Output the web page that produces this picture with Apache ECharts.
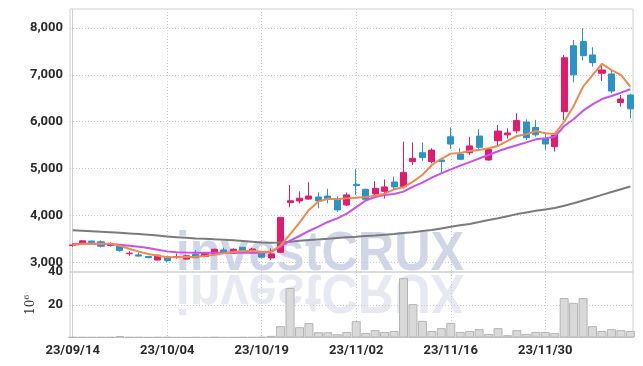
<!DOCTYPE html>
<html><head><meta charset="utf-8">
<script src="https://cdn.jsdelivr.net/npm/echarts@6/dist/echarts.min.js"></script>
<style>html,body{margin:0;padding:0;background:#fff}#c{width:643px;height:366px}</style>
</head><body><div id="c"></div>
<script>
const dates = ['23/09/14','23/09/15','23/09/18','23/09/19','23/09/20','23/09/21','23/09/22','23/09/25','23/09/26','23/09/27',
'23/10/04','23/10/05','23/10/06','23/10/10','23/10/11','23/10/12','23/10/13','23/10/16','23/10/17','23/10/18',
'23/10/19','23/10/20','23/10/23','23/10/24','23/10/25','23/10/26','23/10/27','23/10/30','23/10/31','23/11/01',
'23/11/02','23/11/03','23/11/06','23/11/07','23/11/08','23/11/09','23/11/10','23/11/13','23/11/14','23/11/15',
'23/11/16','23/11/17','23/11/20','23/11/21','23/11/22','23/11/23','23/11/24','23/11/27','23/11/28','23/11/29',
'23/11/30','23/12/01','23/12/04','23/12/05','23/12/06','23/12/07','23/12/08','23/12/11','23/12/12','23/12/13'];

const opens  = [3360,3390,3455,3440,3360,3355,3185,3160,3125,3050, 3120,3115,3070,3170,3125,3180,3265,3195,3320,3200,
                3225,3095,3215,4275,4310,4350,4395,4415,4360,4225, 4665,4560,4460,4515,4715,4615,5150,5340,5150,5185,
                5680,5310,5340,5695,5185,5595,5720,5805,5995,5880, 5645,5470,6215,7620,7710,7425,7035,7020,6410,6570];
const closes = [3370,3460,3420,3345,3400,3255,3195,3135,3100,3155, 3040,3125,3140,3100,3195,3280,3195,3280,3230,3285,
                3110,3180,3960,4315,4370,4415,4310,4355,4120,4440, 4640,4345,4580,4610,4610,4920,5220,5235,5395,5150,
                5525,5200,5485,5455,5410,5800,5760,6025,5660,5720, 5525,5715,7365,7000,7410,7260,7105,6655,6485,6275];
const lows   = [3330,3380,3410,3320,3340,3230,3140,3125,3090,3040, 3005,3080,3060,3090,3110,3170,3185,3180,3220,3190,
                3100,3050,3195,4175,4260,4335,4155,4260,4075,4200, 4440,4335,4370,4365,4545,4580,5080,5165,5115,4900,
                5420,5185,5290,5400,5170,5485,5640,5755,5610,5680, 5400,5365,6040,6840,7305,7175,6870,6605,6320,6075];
const highs  = [3405,3470,3465,3470,3430,3360,3240,3210,3140,3160, 3125,3190,3160,3260,3210,3290,3315,3300,3330,3315,
                3235,3300,3965,4650,4515,4710,4495,4570,4410,4490, 4990,4570,4735,4770,4830,5575,5560,5555,5435,5200,
                5880,5435,5680,5840,5420,5930,5860,6180,6050,6040, 5755,5755,7425,7745,7995,7590,7245,7105,6570,6595];

const maShort = [3370,3390,3400,3400,3395,3355,3290,3230,3180,3140, 3110,3108,3115,3122,3137,3165,3194,3222,3245,3250,
                 3225,3228,3360,3600,3850,4120,4300,4355,4346,4367, 4381,4395,4424,4466,4559,4602,4722,4864,5078,5210,
                 5320,5335,5376,5397,5434,5483,5590,5696,5732,5803, 5754,5739,6000,6336,6748,6997,7235,7100,7000,6750];
const maMid   = [3392,3395,3395,3395,3392,3375,3355,3332,3305,3270, 3235,3218,3212,3208,3206,3205,3205,3205,3205,3205,
                 3208,3228,3336,3463,3563,3670,3762,3862,3940,4040, 4180,4320,4395,4438,4459,4509,4616,4700,4810,4900,
                 4985,5063,5140,5215,5290,5370,5440,5500,5560,5625, 5650,5680,5910,6053,6236,6372,6485,6549,6620,6692];
const maLong  = [3685,3675,3665,3655,3645,3632,3618,3603,3588,3572, 3550,3538,3525,3512,3502,3492,3484,3470,3455,3440,
                 3425,3420,3425,3440,3460,3475,3490,3505,3520,3535, 3548,3562,3576,3592,3608,3625,3645,3668,3690,3725,
                 3760,3790,3820,3860,3905,3940,3985,4030,4065,4100, 4130,4160,4210,4260,4320,4380,4440,4500,4560,4620];

const volumes = [0.2,0.2,0.2,0.2,0.2,0.8,0.2,0.2,0.1,0.2, 0.2,0.1,0.1,0.2,0.1,0.2,0.1,0.1,0.2,0.2,
                 0.3,1.0,6.9,30.2,6.3,8.8,3.2,3.2,2.0,3.4, 10.0,2.8,4.5,3.4,4.0,36.3,20.4,10.2,4.0,5.7,
                 8.9,3.4,4.0,5.1,2.2,5.7,1.4,4.5,2.2,3.4, 3.4,2.8,24.1,21.2,24.1,6.9,4.0,5.1,4.5,4.0];

const priceTickStep = 1000;
const volumeTickStep = 20;
const dateTickStep = 10;

const UP = '#e31b6d', DOWN = '#2b93c8';
const labelFont = {fontFamily: 'Roboto, "Liberation Sans", sans-serif', fontSize: 13, fontWeight: 'bold', color: '#2a2a2a'};
const gridLine = {show: true, showMinLine: false, showMaxLine: false, lineStyle: {color: '#c5c9d6', type: [1, 2], width: 1}};
const fmtThousands = v => String(v).replace(/\B(?=(\d{3})+(?!\d))/g, ',');

const chart = echarts.init(document.getElementById('c'), null, {renderer: 'canvas'});
const xBase = {
  type: 'value', min: -0.28, max: 59.28, minInterval: dateTickStep, maxInterval: dateTickStep,
  axisTick: {show: false}, splitLine: gridLine
};
const wmFont = 'bold 56px "Liberation Sans", sans-serif';
chart.setOption({
  animation: false,
  backgroundColor: '#fff',
  grid: [
    {left: 70, right: 10, top: 9, height: 263, show: true, borderColor: '#cfcfcf', borderWidth: 1},
    {left: 70, right: 10, top: 272, height: 65.5, show: true, borderColor: '#cfcfcf', borderWidth: 1}
  ],
  xAxis: [
    Object.assign({}, xBase, {gridIndex: 0, axisLine: {show: false}, axisLabel: {show: false}}),
    Object.assign({}, xBase, {gridIndex: 1, axisLine: {show: true, lineStyle: {color: '#c8c8c8'}},
      axisLabel: Object.assign({show: true, margin: 7, showMinLabel: false, showMaxLabel: false,
        formatter: v => (Number.isInteger(v) && v % dateTickStep === 0) ? dates[v] : ''}, labelFont)})
  ],
  yAxis: [
    {gridIndex: 0, type: 'value', min: 2795, max: 8405, minInterval: priceTickStep, maxInterval: priceTickStep,
     axisLine: {show: true, lineStyle: {color: '#cfcfcf'}}, axisTick: {show: false},
     axisLabel: Object.assign({margin: 7, showMinLabel: false, showMaxLabel: false,
       formatter: v => v % priceTickStep === 0 ? fmtThousands(v) : ''}, labelFont),
     splitLine: gridLine},
    {gridIndex: 1, type: 'value', min: 0, max: 40, minInterval: volumeTickStep, maxInterval: volumeTickStep,
     axisLine: {show: true, lineStyle: {color: '#cfcfcf'}}, axisTick: {show: false},
     axisLabel: Object.assign({margin: 7, showMinLabel: false, showMaxLabel: true}, labelFont),
     splitLine: gridLine,
     name: '{a|10}{b|6}', nameLocation: 'middle', nameGap: 26, nameRotate: 90,
     nameTextStyle: {rich: {
       a: {fontFamily: '"DejaVu Serif", serif', fontSize: 12, color: '#333', lineHeight: 16},
       b: {fontFamily: '"DejaVu Serif", serif', fontSize: 8, color: '#333', verticalAlign: 'top', lineHeight: 16}
     }}}
  ],
  graphic: [
    {type: 'text', x: 320, y: 272, z: -10, scaleX: 0.9, silent: true,
     style: {text: 'investCRUX', x: 0, y: 11, textAlign: 'center', textVerticalAlign: 'bottom',
       font: wmFont, fill: 'rgba(178,189,218,0.62)'}},
    {type: 'text', x: 320, y: 272, z: -10, scaleX: 0.9, scaleY: -1, silent: true,
     style: {text: 'investCRUX', x: 0, y: 10, textAlign: 'center', textVerticalAlign: 'bottom',
       font: wmFont, fill: 'rgba(200,206,226,0.45)'}}
  ],
  series: [
    {type: 'candlestick', xAxisIndex: 0, yAxisIndex: 0, barWidth: '70%',
     data: dates.map((d, i) => [i, opens[i], closes[i], lows[i], highs[i]]),
     itemStyle: {color: UP, color0: DOWN, borderColor: UP, borderColor0: DOWN, borderWidth: 1}},
    {type: 'line', xAxisIndex: 0, yAxisIndex: 0, showSymbol: false, data: maLong.map((v, i) => [i, v]),
     lineStyle: {color: '#7b7b7b', width: 2}, z: 3},
    {type: 'line', xAxisIndex: 0, yAxisIndex: 0, showSymbol: false, data: maMid.map((v, i) => [i, v]),
     lineStyle: {color: '#c952ec', width: 2}, z: 3},
    {type: 'line', xAxisIndex: 0, yAxisIndex: 0, showSymbol: false, data: maShort.map((v, i) => [i, v]),
     lineStyle: {color: '#ef8a4e', width: 2}, z: 3},
    {type: 'bar', xAxisIndex: 1, yAxisIndex: 1, barWidth: 9, data: volumes.map((v, i) => [i, v]),
     itemStyle: {color: '#d9d9d9', borderColor: '#b4b4b4', borderWidth: 1}}
  ]
});
</script></body></html>
